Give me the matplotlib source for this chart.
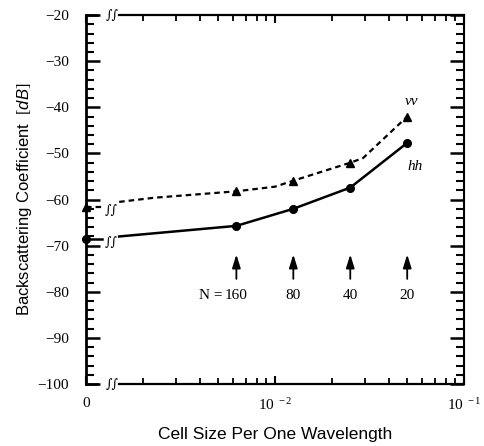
import matplotlib
matplotlib.use('Agg')
import matplotlib.pyplot as plt
from matplotlib.ticker import FixedLocator, LogLocator, MultipleLocator, NullFormatter

# N cells per wavelength -> cell size = 1/N
n_cells = [160, 80, 40, 20]
cell_size = [1.0 / n for n in n_cells]
hh_points = [-65.7, -62.0, -57.4, -47.7]
vv_points = [-58.2, -55.9, -52.0, -42.0]

# values at zero cell size (left edge, in front of the axis break)
hh_zero = -68.5
vv_zero = -61.6

# curves, right of the break
hh_curve_x = [1.5e-3, 1 / 160, 1 / 80, 1 / 40, 1 / 20]
hh_curve_y = [-68.0, -65.7, -62.0, -57.4, -47.7]
vv_curve_x = [1.5e-3, 2.3e-3, 1 / 160, 1.0e-2, 1 / 80, 1 / 40, 0.0292, 1 / 20]
vv_curve_y = [-60.5, -59.6, -58.2, -57.2, -55.9, -52.0, -51.0, -42.0]

x_ticks = [1e-3, 1e-2, 1e-1]
x_ticklabels = ['0', r'$10^{\ -2}$', r'$10^{\ -1}$']

x_left = 1e-3      # position of "0"
x_stub = 1.22e-3   # end of the short piece before the break
x_brk = 1.37e-3    # break symbol

plt.rcParams['mathtext.fontset'] = 'custom'
plt.rcParams['mathtext.rm'] = 'Liberation Serif'
plt.rcParams['mathtext.it'] = 'Liberation Sans:italic'
serif = 'Liberation Serif'
sans = 'Liberation Sans'

fig = plt.figure(figsize=(4.85, 4.46), dpi=100)
ax = fig.add_axes([0.177, 0.139, 0.78, 0.827])

ax.set_xscale('log')
ax.set_xlim(1e-3, 1e-1)
ax.set_ylim(-100, -20)

# curves
ax.plot(hh_curve_x, hh_curve_y, color='k', lw=1.8)
ax.plot(cell_size, hh_points, 'o', color='k', ms=5.5)
ax.plot(vv_curve_x, vv_curve_y, color='k', lw=1.6, linestyle=(0, (2.5, 1.8)))
ax.plot(cell_size, vv_points, '^', color='k', ms=6)

# zero cell size values with the broken piece
ax.plot([x_left, x_stub], [hh_zero, hh_zero], color='k', lw=1.8)
ax.plot([x_left], [hh_zero], 'o', color='k', ms=5.5, clip_on=False, zorder=5)
ax.plot([x_left, x_stub], [vv_zero, vv_zero], color='k', lw=1.6, linestyle=(0, (2.5, 1.8)))
ax.plot([x_left], [vv_zero], '^', color='k', ms=6, clip_on=False, zorder=5)
for yb in [vv_zero, hh_zero]:
    ax.text(x_brk, yb - 0.7, '∫∫', fontsize=9, family='DejaVu Serif',
            ha='center', va='center')

# broken top and bottom axes
ax.spines['top'].set_visible(False)
ax.spines['bottom'].set_visible(False)
for yy in [0, 1]:
    ax.plot([0, 0.03], [yy, yy], color='k', lw=1.8, transform=ax.transAxes, clip_on=False)
    ax.plot([0.088, 1], [yy, yy], color='k', lw=1.6, transform=ax.transAxes, clip_on=False)
    ax.text(0.069, yy, '∫∫', fontsize=9, family='DejaVu Serif', ha='center', va='center',
            transform=ax.transAxes)
ax.spines['left'].set_linewidth(2.0)
ax.spines['right'].set_linewidth(1.5)

# ticks
ax.xaxis.set_major_locator(FixedLocator(x_ticks))
ax.set_xticklabels(x_ticklabels, fontfamily=serif, fontsize=11)
ax.xaxis.set_minor_locator(LogLocator(base=10, subs=range(2, 10)))
ax.xaxis.set_minor_formatter(NullFormatter())
ax.yaxis.set_major_locator(MultipleLocator(10))
ax.yaxis.set_minor_locator(MultipleLocator(2))
ax.tick_params(axis='both', which='both', direction='in', top=True, right=True, color='k')
ax.tick_params(axis='y', which='major', length=10, width=1.8, pad=12, labelsize=11)
ax.tick_params(axis='y', which='minor', length=6, width=1.5)
ax.tick_params(axis='x', which='major', length=6, width=1.5, pad=9)
ax.tick_params(axis='x', which='minor', length=4, width=1.3)
for lab in ax.get_yticklabels():
    lab.set_fontfamily(serif)

# N arrows
for x, n in zip(cell_size, n_cells):
    ax.annotate('', xy=(x, -71.3), xytext=(x, -77.8),
                arrowprops=dict(arrowstyle='-|>,head_length=0.8,head_width=0.25',
                                color='k', lw=1.3))
    ax.text(x, -80.8, str(n), ha='center', va='center', fontsize=11, family=serif)
ax.annotate('N =', xy=(cell_size[0], -80.8), xytext=(-10, 0), textcoords='offset points',
            ha='right', va='center', fontsize=11, family=serif)

ax.text(0.053, -38.7, 'vv', fontsize=11, family=serif, style='italic', ha='center', va='center')
ax.text(0.055, -52.9, 'hh', fontsize=11, family=serif, style='italic', ha='center', va='center')

ax.set_xlabel('Cell Size Per One Wavelength', fontsize=12.5, family=sans, labelpad=10)
ax.set_ylabel(r'Backscattering Coefficient  $\mathit{[dB]}$', fontsize=12, family=sans,
              labelpad=3)

fig.savefig('out.png', dpi=100)
